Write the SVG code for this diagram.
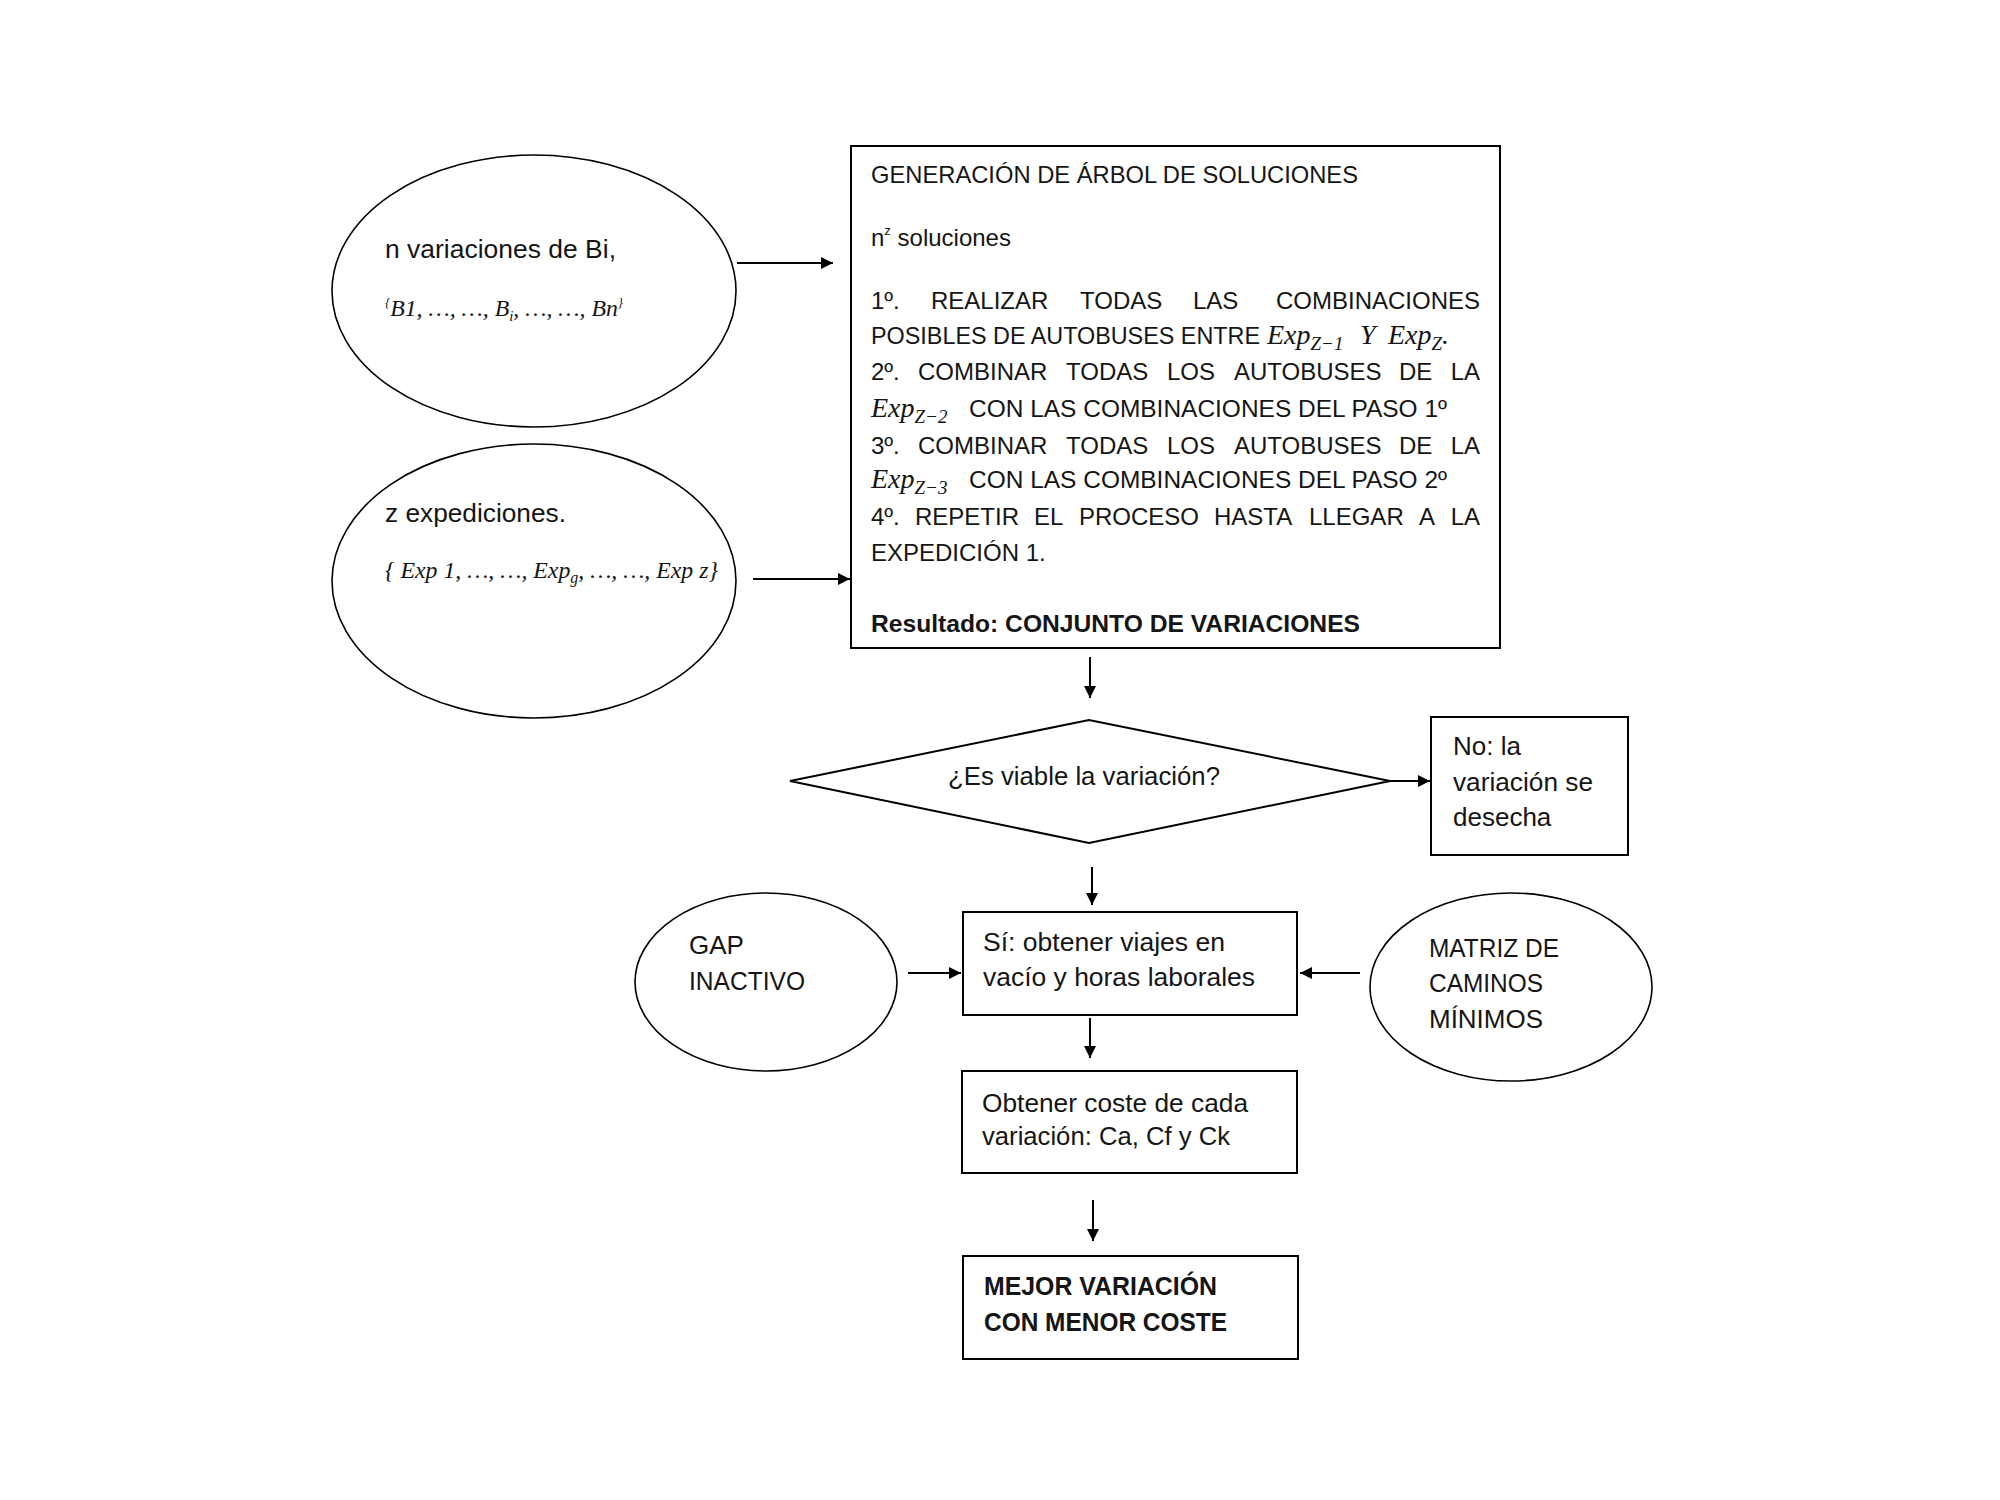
<svg xmlns="http://www.w3.org/2000/svg" width="2000" height="1500" viewBox="0 0 2000 1500">
<defs>
<style>
.t{font-family:"Liberation Sans",Arial,sans-serif;font-size:24px;fill:#151515;}
.tl{font-family:"Liberation Sans",Arial,sans-serif;font-size:26px;fill:#151515;}
.b{font-weight:bold;}
.m{font-family:"Liberation Serif","Times New Roman",serif;font-style:italic;font-size:28px;fill:#151515;}
.sub{font-size:19px;}
.shape{fill:#fff;stroke:#000;stroke-width:2;}
.ell{fill:#fff;stroke:#000;stroke-width:1.6;}
.conn{stroke:#000;stroke-width:2;fill:none;marker-end:url(#ah);}
</style>
<marker id="ah" viewBox="0 0 10 10" refX="10" refY="5" markerWidth="8" markerHeight="6" orient="auto" markerUnits="strokeWidth">
<path d="M0,0L10,5L0,10z" fill="#000"/>
</marker>
</defs>
<rect width="2000" height="1500" fill="#fff"/>

<g id="connectors">
<line class="conn" x1="737" y1="263" x2="833" y2="263"/>
<line class="conn" x1="753" y1="579" x2="850" y2="579"/>
<line class="conn" x1="1090" y1="657" x2="1090" y2="698"/>
<line class="conn" x1="1390" y1="781" x2="1430" y2="781"/>
<line class="conn" x1="1092" y1="867" x2="1092" y2="905"/>
<line class="conn" x1="908" y1="973" x2="961" y2="973"/>
<line class="conn" x1="1360" y1="973" x2="1300" y2="973"/>
<line class="conn" x1="1090" y1="1018" x2="1090" y2="1058"/>
<line class="conn" x1="1093" y1="1200" x2="1093" y2="1241"/>
</g>

<g id="node-variaciones">
<ellipse class="ell" cx="534" cy="291" rx="202" ry="136"/>
<text class="tl" x="385" y="258" textLength="231" lengthAdjust="spacingAndGlyphs">n variaciones de Bi,</text>
<text class="m" x="385" y="316" font-size="24" textLength="238" lengthAdjust="spacingAndGlyphs"><tspan font-size="13" dy="-9">{</tspan><tspan dy="9" font-size="24">B1, …, …, B</tspan><tspan font-size="15" dy="5">i</tspan><tspan dy="-5" font-size="24">, …, …, Bn</tspan><tspan font-size="13" dy="-9">}</tspan></text>
</g>

<g id="node-expediciones">
<ellipse class="ell" cx="534" cy="581" rx="202" ry="137"/>
<text class="tl" x="385" y="522" textLength="181" lengthAdjust="spacingAndGlyphs">z expediciones.</text>
<text class="m" x="385" y="578" font-size="24" textLength="333" lengthAdjust="spacingAndGlyphs"><tspan font-size="24">{ Exp 1, …, …, Exp</tspan><tspan font-size="16" dy="5">g</tspan><tspan dy="-5" font-size="24">, …, …, Exp z}</tspan></text>
</g>

<g id="node-arbol">
<rect class="shape" x="851" y="146" width="649" height="502"/>
<text class="t" x="871" y="183" textLength="487" lengthAdjust="spacingAndGlyphs">GENERACIÓN DE ÁRBOL DE SOLUCIONES</text>
<text class="t" x="871" y="246">n<tspan font-size="13" dy="-11">z</tspan><tspan dy="11"> soluciones</tspan></text>
<text class="t" y="309"><tspan x="871">1º.</tspan><tspan x="931">REALIZAR</tspan><tspan x="1080">TODAS</tspan><tspan x="1193">LAS</tspan><tspan x="1480" text-anchor="end">COMBINACIONES</tspan></text>
<text class="t" x="871" y="344" textLength="389" lengthAdjust="spacingAndGlyphs">POSIBLES DE AUTOBUSES ENTRE</text>
<text class="m" y="344"><tspan x="1267">Exp</tspan><tspan class="sub" dy="6">Z−1</tspan><tspan dy="-6" x="1360">Y</tspan><tspan x="1388">Exp</tspan><tspan class="sub" dy="6">Z</tspan><tspan dy="-6">.</tspan></text>
<text class="t" y="380"><tspan x="871">2º.</tspan><tspan x="918">COMBINAR</tspan><tspan x="1066">TODAS</tspan><tspan x="1167">LOS</tspan><tspan x="1234">AUTOBUSES</tspan><tspan x="1399">DE</tspan><tspan x="1480" text-anchor="end">LA</tspan></text>
<text class="m" x="871" y="417">Exp<tspan class="sub" dy="6">Z−2</tspan></text>
<text class="t" x="969" y="417" textLength="478" lengthAdjust="spacingAndGlyphs">CON LAS COMBINACIONES DEL PASO 1º</text>
<text class="t" y="454"><tspan x="871">3º.</tspan><tspan x="918">COMBINAR</tspan><tspan x="1066">TODAS</tspan><tspan x="1167">LOS</tspan><tspan x="1234">AUTOBUSES</tspan><tspan x="1399">DE</tspan><tspan x="1480" text-anchor="end">LA</tspan></text>
<text class="m" x="871" y="488">Exp<tspan class="sub" dy="6">Z−3</tspan></text>
<text class="t" x="969" y="488" textLength="478" lengthAdjust="spacingAndGlyphs">CON LAS COMBINACIONES DEL PASO 2º</text>
<text class="t" y="525"><tspan x="871">4º.</tspan><tspan x="915">REPETIR</tspan><tspan x="1034">EL</tspan><tspan x="1079">PROCESO</tspan><tspan x="1214">HASTA</tspan><tspan x="1309">LLEGAR</tspan><tspan x="1419">A</tspan><tspan x="1480" text-anchor="end">LA</tspan></text>
<text class="t" x="871" y="561">EXPEDICIÓN 1.</text>
<text class="t b" x="871" y="632" textLength="489" lengthAdjust="spacingAndGlyphs">Resultado: CONJUNTO DE VARIACIONES</text>
</g>

<g id="node-viable">
<polygon class="shape" points="790,781 1089,720 1390,781 1089,843"/>
<text class="tl" x="948" y="785" textLength="272" lengthAdjust="spacingAndGlyphs">¿Es viable la variación?</text>
</g>

<g id="node-desecha">
<rect class="shape" x="1431" y="717" width="197" height="138"/>
<text class="tl" x="1453" y="755">No: la</text>
<text class="tl" x="1453" y="791" textLength="140" lengthAdjust="spacingAndGlyphs">variación se</text>
<text class="tl" x="1453" y="826">desecha</text>
</g>

<g id="node-gap">
<ellipse class="ell" cx="766" cy="982" rx="131" ry="89"/>
<text class="tl" x="689" y="954">GAP</text>
<text class="tl" x="689" y="990" textLength="116" lengthAdjust="spacingAndGlyphs">INACTIVO</text>
</g>

<g id="node-si">
<rect class="shape" x="963" y="912" width="334" height="103"/>
<text class="tl" x="983" y="951" textLength="242" lengthAdjust="spacingAndGlyphs">Sí: obtener viajes en</text>
<text class="tl" x="983" y="986" textLength="272" lengthAdjust="spacingAndGlyphs">vacío y horas laborales</text>
</g>

<g id="node-matriz">
<ellipse class="ell" cx="1511" cy="987" rx="141" ry="94"/>
<text class="tl" x="1429" y="957" textLength="130" lengthAdjust="spacingAndGlyphs">MATRIZ DE</text>
<text class="tl" x="1429" y="992" textLength="114" lengthAdjust="spacingAndGlyphs">CAMINOS</text>
<text class="tl" x="1429" y="1028" textLength="114" lengthAdjust="spacingAndGlyphs">MÍNIMOS</text>
</g>

<g id="node-coste">
<rect class="shape" x="962" y="1071" width="335" height="102"/>
<text class="tl" x="982" y="1112" textLength="266" lengthAdjust="spacingAndGlyphs">Obtener coste de cada</text>
<text class="tl" x="982" y="1145" textLength="248" lengthAdjust="spacingAndGlyphs">variación: Ca, Cf y Ck</text>
</g>

<g id="node-mejor">
<rect class="shape" x="963" y="1256" width="335" height="103"/>
<text class="tl b" x="984" y="1295" textLength="233" lengthAdjust="spacingAndGlyphs">MEJOR VARIACIÓN</text>
<text class="tl b" x="984" y="1331" textLength="243" lengthAdjust="spacingAndGlyphs">CON MENOR COSTE</text>
</g>
</svg>
